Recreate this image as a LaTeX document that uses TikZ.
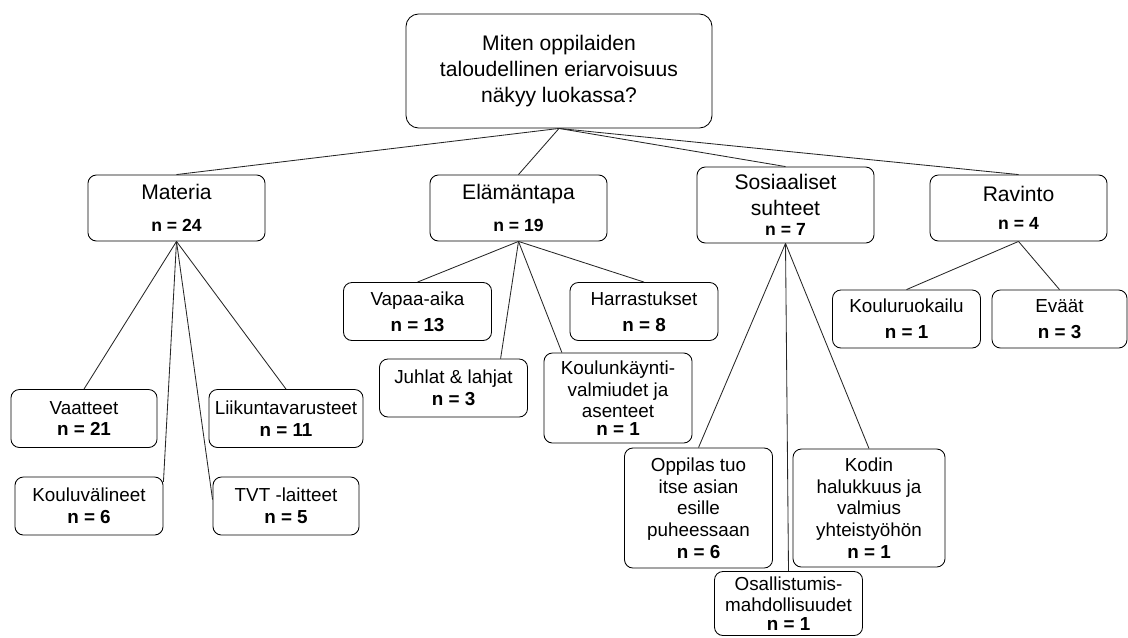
\documentclass[tikz,border=0pt]{standalone}
\usepackage{fontspec}
\setmainfont{Liberation Sans}

\newcommand{\nsmall}[1]{{\fontsize{12.5}{15}\selectfont\bfseries n = #1}}
\newcommand{\nbig}[1]{{\bfseries n = #1}}

\tikzset{
  box/.style={draw, rounded corners=6pt, align=center, inner sep=2pt, line width=0.6pt},
  topbox/.style={box, rounded corners=9pt, minimum width=7.65cm, minimum height=2.85cm,
    font=\fontsize{15}{18.4}\selectfont},
  catbox/.style={box, minimum width=4.425cm, minimum height=1.65cm,
    font=\fontsize{15}{18.4}\selectfont},
  subbox/.style={box, minimum width=3.7cm, minimum height=1.45cm,
    font=\fontsize{13.4}{15.4}\selectfont},
  link/.style={draw=black!85, line width=0.6pt}
}

\begin{document}
\begin{tikzpicture}[x=0.025cm, y=-0.025cm]
      \useasboundingbox (0,0) rectangle (1128,637);
      \clip (0,0) rectangle (1128,637);
      \draw
        (559,71) node[topbox] (top){Miten oppilaiden\\taloudellinen eriarvoisuus\\näkyy luokassa?}
        (176.5,208) node[catbox] (materia){Materia\\[4pt]\nsmall{24}}
        (518.5,208) node[catbox] (elama){Elämäntapa\\[4pt]\nsmall{19}}
        (785.5,205) node[catbox, minimum height=1.9cm] (sosiaal){Sosiaaliset\\suhteet\\[-4pt]\nsmall{7}}
        (1018.5,208) node[catbox] (ravinto){Ravinto\\[2pt]\nsmall{4}}
        (84,418.5) node[subbox, minimum width=3.65cm] (vaatteet){Vaatteet\\\nbig{21}}
        (286,418.5) node[subbox, minimum width=3.85cm] (liikunta){Liikuntavarusteet\\\nbig{11}}
        (89,506) node[subbox] (koulval){Kouluvälineet\\\nbig{6}}
        (286,506) node[subbox, minimum width=3.65cm] (tvt){TVT -laitteet\\\nbig{5}}
        (417.5,311.5) node[subbox] (vapaa){Vapaa-aika\\[3pt]\nbig{13}}
        (644,311.5) node[subbox] (harrast){Harrastukset\\[3pt]\nbig{8}}
        (453.5,388) node[subbox] (juhlat){Juhlat \& lahjat\\\nbig{3}}
        (618,398) node[subbox, minimum height=2.25cm] (koulunk){Koulunkäynti-\\valmiudet ja\\asenteet\\[-3pt]\nbig{1}}
        (698.5,508) node[subbox, minimum height=3cm] (oppilas){Oppilas tuo\\itse asian\\esille\\puheessaan\\\nbig{6}}
        (869,508) node[subbox, minimum width=3.8cm, minimum height=2.95cm] (kodin){Kodin\\halukkuus ja\\valmius\\yhteistyöhön\\\nbig{1}}
        (788.5,603.5) node[subbox, minimum height=1.6cm] (osall){Osallistumis-\\mahdollisuudet\\[-2pt]\nbig{1}}
        (906.5,319) node[subbox] (kruoka){Kouluruokailu\\[3pt]\nbig{1}}
        (1059.5,319) node[subbox, minimum width=3.375cm] (evaat){Eväät\\[3pt]\nbig{3}};
      \begin{scope}[link]
        \draw (top.south) to (materia.north);
        \draw (top.south) to (elama.north);
        \draw (top.south) to (sosiaal.north);
        \draw (top.south) to (ravinto.north);
        \draw (materia.south) to (vaatteet.north);
        \draw (materia.south) to (liikunta.north);
        \draw (materia.south) to (koulval.18);
        \draw (materia.south) to (tvt.175);
        \draw (elama.south) to (vapaa.north);
        \draw (elama.south) to (harrast.north);
        \draw (elama.south) to (juhlat.32);
        \draw (elama.south) to (koulunk.141);
        \draw (sosiaal.south) to (oppilas.north);
        \draw (sosiaal.south) to (osall.north);
        \draw (sosiaal.south) to (kodin.north);
        \draw (ravinto.south) to (kruoka.north);
        \draw (ravinto.south) to (evaat.north);
      \end{scope}
    \end{tikzpicture}
\end{document}
